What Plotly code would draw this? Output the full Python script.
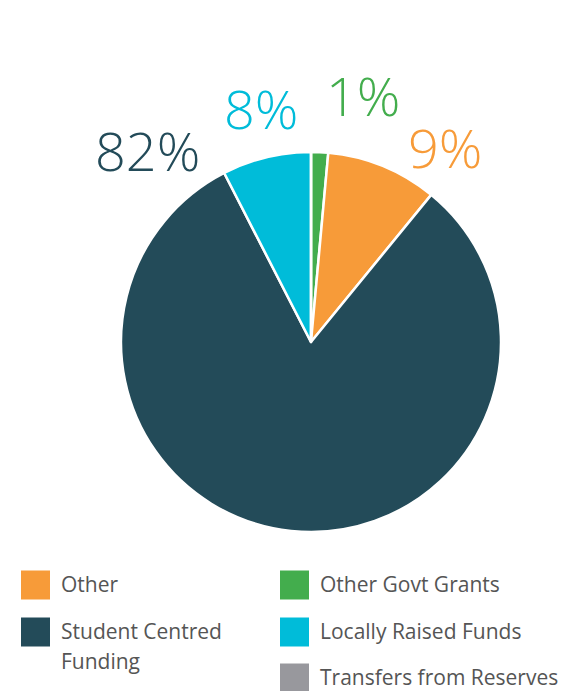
import plotly.graph_objects as go

# Revenue sources (percent of total), in clockwise order from 12 o'clock
slice_labels = ["Other Govt Grants", "Other", "Student Centred Funding",
                "Locally Raised Funds", "Transfers from Reserves"]
slice_values = [1.45, 9.45, 81.55, 7.55, 0.0]
slice_colors = ["#43ad4d", "#f79b39", "#234b59", "#00bcd9", "#98989d"]

# Legend entries with their column / row in the two-column key
legend_items = ["Other", "Other Govt Grants", "Student Centred Funding",
                "Locally Raised Funds", "Transfers from Reserves"]
legend_text = ["Other", "Other Govt Grants", "Student Centred<br>Funding",
               "Locally Raised Funds", "Transfers from Reserves"]
legend_col = [0, 1, 0, 1, 1]
legend_row = [0, 0, 1, 1, 2]

# Where each big percentage label sits (pixels from top-left)
pct_label_pos = {
    "Student Centred Funding": (147, 150),
    "Locally Raised Funds": (261, 108),
    "Other Govt Grants": (363, 95),
    "Other": (445, 147),
}

W, H = 571, 691
cx, cy, r = 311, 342, 190


def px(x):
    return x / W


def py(y):
    return 1 - y / H


fig = go.Figure(go.Pie(
    labels=slice_labels,
    values=slice_values,
    marker=dict(colors=slice_colors, line=dict(color="white", width=2.5)),
    sort=False,
    direction="clockwise",
    rotation=0,
    textinfo="none",
    hoverinfo="label+percent",
    showlegend=False,
    domain=dict(x=[px(cx - r), px(cx + r)], y=[py(cy + r), py(cy - r)]),
))

color_of = dict(zip(slice_labels, slice_colors))
value_of = dict(zip(slice_labels, slice_values))
total = sum(slice_values)

annotations = []
for name, (x, y) in pct_label_pos.items():
    pct = value_of[name] / total * 100
    annotations.append(dict(
        x=px(x), y=py(y), xref="paper", yref="paper",
        xanchor="center", yanchor="middle", showarrow=False,
        text=f"{pct:.0f}%",
        font=dict(family="Open Sans", size=54, color=color_of[name], weight=300),
    ))

shapes = []
col_x = [21, 280]
row_y = [585, 632, 678]
for name, txt, col, row in zip(legend_items, legend_text, legend_col, legend_row):
    sx, sy = col_x[col], row_y[row]
    shapes.append(dict(
        type="rect", xref="paper", yref="paper",
        x0=px(sx), x1=px(sx + 29), y0=py(sy + 14.5), y1=py(sy - 14.5),
        fillcolor=color_of[name], line=dict(width=0),
    ))
    for k, line in enumerate(txt.split("<br>")):
        annotations.append(dict(
            x=px(sx + 38), y=py(sy - 1 + 30 * k), xref="paper", yref="paper",
            xanchor="left", yanchor="middle", showarrow=False,
            text=line, align="left",
            font=dict(family="Open Sans", size=21, color="#555555"),
        ))

fig.update_layout(
    width=W, height=H,
    margin=dict(l=0, r=0, t=0, b=0),
    paper_bgcolor="white",
    plot_bgcolor="white",
    annotations=annotations,
    shapes=shapes,
)

fig.write_html("out.html")
